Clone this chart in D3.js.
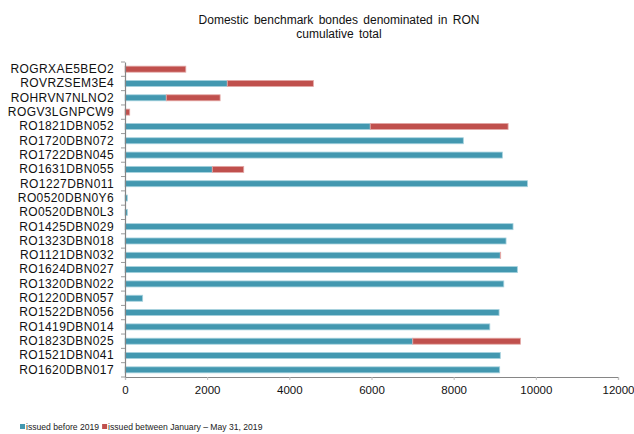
<!DOCTYPE html>
<html>
<head>
<meta charset="utf-8">
<script src="https://cdn.jsdelivr.net/npm/d3@7"></script>
<style>
  html, body { margin: 0; padding: 0; background: #fff; }
  svg { display: block; font-family: "Liberation Sans", Arial, sans-serif; }
</style>
</head>
<body>
<svg id="chart" width="634" height="434"></svg>
<script>
const categories = [
  "ROGRXAE5BEO2", "ROVRZSEM3E4", "ROHRVN7NLNO2", "ROGV3LGNPCW9",
  "RO1821DBN052", "RO1720DBN072", "RO1722DBN045", "RO1631DBN055",
  "RO1227DBN011", "RO0520DBN0Y6", "RO0520DBN0L3", "RO1425DBN029",
  "RO1323DBN018", "RO1121DBN032", "RO1624DBN027", "RO1320DBN022",
  "RO1220DBN057", "RO1522DBN056", "RO1419DBN014", "RO1823DBN025",
  "RO1521DBN041", "RO1620DBN017"
];
const issuedBefore2019 = [
  0, 2490, 1005, 0,
  5970, 8235, 9185, 2125,
  9795, 56, 56, 9445,
  9275, 9135, 9550, 9220,
  430, 9105, 8880, 7005,
  9135, 9120
];
const issuedJanMay2019 = [
  1480, 2095, 1310, 115,
  3355, 0, 0, 765,
  0, 0, 0, 0,
  0, 10, 0, 0,
  0, 0, 0, 2620,
  0, 0
];
const seriesNames = ["issued before 2019", "issued between January \u2013 May 31, 2019"];
const xTicks = [0, 2000, 4000, 6000, 8000, 10000, 12000];
const titleLines = ["Domestic benchmark bondes denominated in RON", "cumulative total"];

const colors = ["#4398b0", "#c0504d"];
const strokeColors = ["#a6d2de", "#e3a8a6"];

const svg = d3.select("#chart");
const margin = { left: 125, right: 16, top: 62, bottom: 57 };
const W = 634, H = 434;

const x = d3.scaleLinear().domain([0, 12000]).range([margin.left, W - margin.right]);
const yBand = d3.scaleBand().domain(categories).range([margin.top, H - margin.bottom]).paddingInner(0).paddingOuter(0);
const y = d3.scaleBand().domain(categories).range([margin.top, H - margin.bottom]).paddingInner(0.58).paddingOuter(0.29);

// stack data
const rows = categories.map((c, i) => ({ cat: c, before: issuedBefore2019[i], during: issuedJanMay2019[i] }));
const stack = d3.stack().keys(["before", "during"])(rows);

// bars
stack.forEach((layer, li) => {
  svg.append("g")
    .selectAll("rect")
    .data(layer.filter(d => d[1] - d[0] > 0))
    .join("rect")
    .attr("x", d => x(d[0]))
    .attr("y", d => y(d.data.cat))
    .attr("width", d => x(d[1]) - x(d[0]))
    .attr("height", y.bandwidth())
    .attr("fill", colors[li])
    .attr("stroke", strokeColors[li])
    .attr("stroke-width", 0.8);
});

// x axis
const xAxis = d3.axisBottom(x).tickValues(xTicks).tickFormat(d3.format("d")).tickSize(3).tickPadding(6);
const gx = svg.append("g").attr("transform", `translate(0,${H - margin.bottom})`).call(xAxis);
gx.select(".domain").attr("stroke", "#868686").attr("stroke-width", 1.2);
gx.selectAll(".tick line").attr("stroke", "#bdbdbd");
gx.selectAll(".tick text").attr("fill", "#111").attr("font-size", "11.5px")
  .attr("font-family", "Liberation Sans, Arial, sans-serif");

// y axis
const yAxis = d3.axisLeft(y).tickSize(0).tickPadding(11);
const gy = svg.append("g").attr("transform", `translate(${margin.left},0)`).call(yAxis);
gy.select(".domain").attr("stroke", "#868686").attr("stroke-width", 1.2);
gy.selectAll(".tick text").attr("fill", "#111").attr("font-size", "12px")
  .attr("letter-spacing", "0.4px")
  .attr("font-family", "Liberation Sans, Arial, sans-serif");

// y boundary ticks
const bounds = categories.map(c => yBand(c)).concat([yBand(categories[categories.length - 1]) + yBand.bandwidth()]);
svg.append("g").selectAll("line").data(bounds).join("line")
  .attr("x1", margin.left - 4).attr("x2", margin.left)
  .attr("y1", d => d).attr("y2", d => d)
  .attr("stroke", "#9a9a9a").attr("stroke-width", 1);

// title
svg.append("g").selectAll("text").data(titleLines).join("text")
  .attr("x", 339).attr("y", (d, i) => 24 + i * 14)
  .attr("text-anchor", "middle")
  .attr("font-size", "12px")
  .attr("word-spacing", "2px")
  .attr("fill", "#111")
  .text(d => d);

// legend
const legend = svg.append("g").attr("transform", "translate(20,430)");
let lx = 0;
seriesNames.forEach((name, i) => {
  const g = legend.append("g").attr("transform", `translate(${lx},0)`);
  g.append("rect").attr("x", 0).attr("y", -6).attr("width", 5).attr("height", 5).attr("fill", colors[i]);
  const t = g.append("text").attr("x", 6).attr("y", 0).attr("font-size", "8.6px").attr("fill", "#222").text(name);
  lx += 6 + t.node().getComputedTextLength() + 3;
});
</script>
</body>
</html>
